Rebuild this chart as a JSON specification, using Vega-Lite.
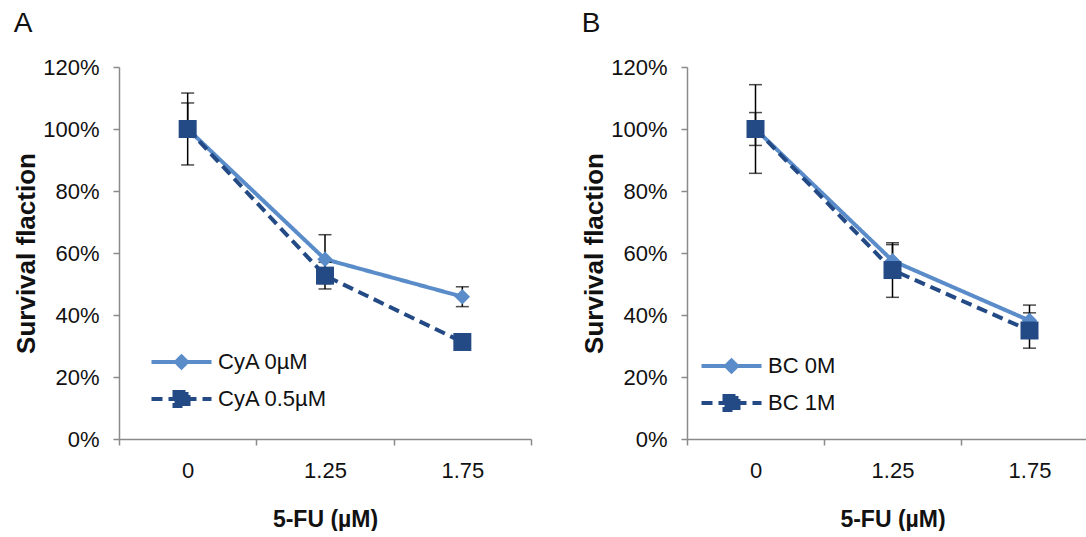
{
  "$schema": "https://vega.github.io/schema/vega-lite/v6.json",
  "padding": {"left": 13, "top": 10, "right": -8, "bottom": 0},
  "background": "white",
  "config": {
    "font": "Liberation Sans",
    "view": {"stroke": null},
    "axis": {"domainColor": "#8a8a8a", "tickColor": "#8a8a8a", "domainWidth": 1.5, "tickWidth": 1.5, "labelColor": "#111111", "titleColor": "#111111", "labelFont": "Liberation Sans", "titleFont": "Liberation Sans", "grid": false, "labelFontSize": 22},
    "legend": {"labelFont": "Liberation Sans"}
  },
  "datasets": {
    "a": [
      {"x": "0", "s": "CyA 0µM", "v": 100, "lo": 88.4, "hi": 111.6},
      {"x": "1.25", "s": "CyA 0µM", "v": 58, "lo": 50.1, "hi": 65.9},
      {"x": "1.75", "s": "CyA 0µM", "v": 45.9, "lo": 42.7, "hi": 49.1},
      {"x": "0", "s": "CyA 0.5µM", "v": 100, "lo": 100, "hi": 108.4},
      {"x": "1.25", "s": "CyA 0.5µM", "v": 52.7, "lo": 48.4, "hi": 57},
      {"x": "1.75", "s": "CyA 0.5µM", "v": 31.3, "lo": 29.5, "hi": 33.1}
    ],
    "b": [
      {"x": "0", "s": "BC 0M", "v": 100, "lo": 94.7, "hi": 105.3},
      {"x": "1.25", "s": "BC 0M", "v": 57.5, "lo": 52.3, "hi": 62.7},
      {"x": "1.75", "s": "BC 0M", "v": 38.2, "lo": 33.2, "hi": 43.2},
      {"x": "0", "s": "BC 1M", "v": 100, "lo": 85.7, "hi": 114.3},
      {"x": "1.25", "s": "BC 1M", "v": 54.5, "lo": 45.7, "hi": 63.3},
      {"x": "1.75", "s": "BC 1M", "v": 35, "lo": 29.3, "hi": 40.7}
    ]
  },
  "spacing": 49,
  "resolve": {"scale": {"color": "independent", "strokeDash": "independent"}, "legend": {"color": "independent", "strokeDash": "independent"}},
  "hconcat": [
    {
      "width": 412,
      "height": 372,
      "title": {"text": "A", "anchor": "start", "frame": "bounds", "fontSize": 28, "fontWeight": "normal", "offset": 18, "color": "#111111", "font": "Liberation Sans"},
      "data": {"name": "a"},
      "encoding": {
        "x": {"field": "x", "type": "ordinal", "sort": ["0", "1.25", "1.75"], "bandPosition": 0.5,
          "scale": {"type": "band", "paddingInner": 0, "paddingOuter": 0},
          "axis": {"title": "5-FU (µM)", "labelAngle": 0, "tickBand": "extent", "tickSize": 6, "labelPadding": 15, "titlePadding": 27, "titleFontSize": 23, "titleFontWeight": "bold"}}
      },
      "layer": [
        {
          "mark": {"type": "line", "strokeWidth": 4},
          "encoding": {
            "y": {"field": "v", "type": "quantitative", "scale": {"domain": [0, 120], "nice": false},
              "axis": {"title": "Survival flaction", "values": [0, 20, 40, 60, 80, 100, 120], "labelExpr": "datum.value + '%'", "tickSize": 6, "labelPadding": 14, "titlePadding": 3, "titleFontSize": 26, "titleFontWeight": "bold"}},
            "color": {"field": "s", "type": "nominal", "scale": {"domain": ["CyA 0µM", "CyA 0.5µM"], "range": ["#5A8CCA", "#234A85"]},
              "legend": {"orient": "none", "legendX": 50.5, "legendY": 283, "title": null, "symbolSize": 400, "symbolStrokeWidth": 4, "labelFontSize": 22, "labelColor": "#111111", "labelOffset": 24.5, "rowPadding": 8,
                "encode": {"symbols": {"update": {
                  "shape": {"signal": "datum.value === 'CyA 0µM' ? 'M-3,0H3M0,-0.55L0.55,0L0,0.55L-0.55,0Z' : 'M-3,0H3M-0.7,-0.7H0.7V0.7H-0.7Z'"},
                  "fill": {"signal": "datum.value === 'CyA 0µM' ? '#5A8CCA' : '#234A85'"},
                  "opacity": {"value": 1}}}}}},
            "strokeDash": {"field": "s", "type": "nominal", "scale": {"domain": ["CyA 0µM", "CyA 0.5µM"], "range": [[1, 0], [11, 6]]}}
          }
        },
        {
          "mark": {"type": "rule", "color": "black", "strokeWidth": 1.5},
          "encoding": {"y": {"field": "lo", "type": "quantitative"}, "y2": {"field": "hi"}}
        },
        {
          "mark": {"type": "tick", "color": "black", "thickness": 1.5, "size": 13, "orient": "horizontal"},
          "encoding": {"y": {"field": "lo", "type": "quantitative"}}
        },
        {
          "mark": {"type": "tick", "color": "black", "thickness": 1.5, "size": 13, "orient": "horizontal"},
          "encoding": {"y": {"field": "hi", "type": "quantitative"}}
        },
        {
          "transform": [{"filter": "datum.s === 'CyA 0µM'"}],
          "mark": {"type": "point", "shape": "diamond", "filled": true, "size": 240, "color": "#5A8CCA", "opacity": 1},
          "encoding": {"y": {"field": "v", "type": "quantitative"}}
        },
        {
          "transform": [{"filter": "datum.s === 'CyA 0.5µM'"}],
          "mark": {"type": "point", "shape": "square", "filled": true, "size": 324, "color": "#234A85", "opacity": 1},
          "encoding": {"y": {"field": "v", "type": "quantitative"}}
        }
      ]
    },
    {
      "width": 411,
      "height": 372,
      "title": {"text": "B", "anchor": "start", "frame": "bounds", "fontSize": 28, "fontWeight": "normal", "offset": 18, "color": "#111111", "font": "Liberation Sans"},
      "data": {"name": "b"},
      "encoding": {
        "x": {"field": "x", "type": "ordinal", "sort": ["0", "1.25", "1.75"], "bandPosition": 0.5,
          "scale": {"type": "band", "paddingInner": 0, "paddingOuter": 0},
          "axis": {"title": "5-FU (µM)", "labelAngle": 0, "tickBand": "extent", "tickSize": 6, "labelPadding": 15, "titlePadding": 27, "titleFontSize": 23, "titleFontWeight": "bold"}}
      },
      "layer": [
        {
          "mark": {"type": "line", "strokeWidth": 4},
          "encoding": {
            "y": {"field": "v", "type": "quantitative", "scale": {"domain": [0, 120], "nice": false},
              "axis": {"title": "Survival flaction", "values": [0, 20, 40, 60, 80, 100, 120], "labelExpr": "datum.value + '%'", "tickSize": 6, "labelPadding": 14, "titlePadding": 3, "titleFontSize": 26, "titleFontWeight": "bold"}},
            "color": {"field": "s", "type": "nominal", "scale": {"domain": ["BC 0M", "BC 1M"], "range": ["#5A8CCA", "#234A85"]},
              "legend": {"orient": "none", "legendX": 32.5, "legendY": 287, "title": null, "symbolSize": 400, "symbolStrokeWidth": 4, "labelFontSize": 22, "labelColor": "#111111", "labelOffset": 24.5, "rowPadding": 8,
                "encode": {"symbols": {"update": {
                  "shape": {"signal": "datum.value === 'BC 0M' ? 'M-3,0H3M0,-0.55L0.55,0L0,0.55L-0.55,0Z' : 'M-3,0H3M-0.7,-0.7H0.7V0.7H-0.7Z'"},
                  "fill": {"signal": "datum.value === 'BC 0M' ? '#5A8CCA' : '#234A85'"},
                  "opacity": {"value": 1}}}}}},
            "strokeDash": {"field": "s", "type": "nominal", "scale": {"domain": ["BC 0M", "BC 1M"], "range": [[1, 0], [11, 6]]}}
          }
        },
        {
          "mark": {"type": "rule", "color": "black", "strokeWidth": 1.5},
          "encoding": {"y": {"field": "lo", "type": "quantitative"}, "y2": {"field": "hi"}}
        },
        {
          "mark": {"type": "tick", "color": "black", "thickness": 1.5, "size": 13, "orient": "horizontal"},
          "encoding": {"y": {"field": "lo", "type": "quantitative"}}
        },
        {
          "mark": {"type": "tick", "color": "black", "thickness": 1.5, "size": 13, "orient": "horizontal"},
          "encoding": {"y": {"field": "hi", "type": "quantitative"}}
        },
        {
          "transform": [{"filter": "datum.s === 'BC 0M'"}],
          "mark": {"type": "point", "shape": "diamond", "filled": true, "size": 240, "color": "#5A8CCA", "opacity": 1},
          "encoding": {"y": {"field": "v", "type": "quantitative"}}
        },
        {
          "transform": [{"filter": "datum.s === 'BC 1M'"}],
          "mark": {"type": "point", "shape": "square", "filled": true, "size": 324, "color": "#234A85", "opacity": 1},
          "encoding": {"y": {"field": "v", "type": "quantitative"}}
        }
      ]
    }
  ]
}
